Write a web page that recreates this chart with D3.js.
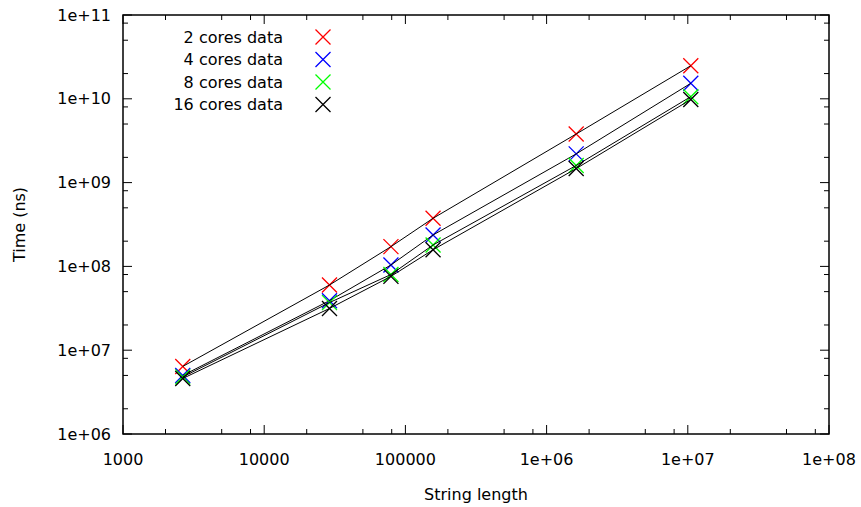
<!DOCTYPE html>
<html><head><meta charset="utf-8">
<script src="https://cdn.jsdelivr.net/npm/d3@7"></script>
<style>body{margin:0;background:#fff}svg{display:block}text{font-family:"DejaVu Sans",sans-serif;font-size:16px;fill:#000}</style>
</head><body><svg id="c" width="861" height="507"></svg>
<script>
const lengths = [2650, 29000, 79000, 157000, 1620000, 10500000];
const seriesNames = ["2 cores data", "4 cores data", "8 cores data", "16 cores data"];
const seriesColors = ["#ff0000", "#0000ff", "#00ff00", "#000000"];
const cores2 = [6.4e6, 6.0e7, 1.72e8, 3.75e8, 3.8e9, 2.48e10];
const cores4 = [5.0e6, 3.9e7, 1.04e8, 2.37e8, 2.2e9, 1.53e10];
const cores8 = [4.8e6, 3.7e7, 8.0e7, 1.8e8, 1.6e9, 1.06e10];
const cores16 = [4.6e6, 3.15e7, 7.6e7, 1.58e8, 1.47e9, 9.8e9];
const seriesValues = [cores2, cores4, cores8, cores16];
const xTickValues = [1e3, 1e4, 1e5, 1e6, 1e7, 1e8];
const xTickLabels = ["1000", "10000", "100000", "1e+06", "1e+07", "1e+08"];
const yTickValues = [1e6, 1e7, 1e8, 1e9, 1e10, 1e11];
const yTickLabels = ["1e+06", "1e+07", "1e+08", "1e+09", "1e+10", "1e+11"];

const L = 123, R = 829, T = 15, B = 434;
const svg = d3.select("#c");
const x = d3.scaleLog().domain([1e3, 1e8]).range([L, R]);
const y = d3.scaleLog().domain([1e6, 1e11]).range([B, T]);

const minorX = [], minorY = [];
for (let d = 3; d < 8; d++) for (const m of [2, 5, 8]) minorX.push(m * Math.pow(10, d));
for (let d = 6; d < 11; d++) for (const m of [2, 5, 8]) minorY.push(m * Math.pow(10, d));

const g = svg.append("g");
function tk(x1, y1, x2, y2) { g.append("line").attr("x1", x1).attr("y1", y1).attr("x2", x2).attr("y2", y2).attr("stroke", "#000").attr("stroke-width", 1); }
xTickValues.forEach(v => { const px = x(v); tk(px, B, px, B - 9); tk(px, T, px, T + 9); });
minorX.forEach(v => { const px = x(v); tk(px, B, px, B - 5); tk(px, T, px, T + 5); });
yTickValues.forEach(v => { const py = y(v); tk(L, py, L + 9, py); tk(R, py, R - 9, py); });
minorY.forEach(v => { const py = y(v); tk(L, py, L + 5, py); tk(R, py, R - 5, py); });

xTickValues.forEach((v, i) => g.append("text").attr("x", x(v)).attr("y", B + 25).attr("text-anchor", "middle").attr("dominant-baseline", "central").text(xTickLabels[i]));
yTickValues.forEach((v, i) => g.append("text").attr("x", L - 12).attr("y", y(v)).attr("text-anchor", "end").attr("dominant-baseline", "central").text(yTickLabels[i]));

svg.append("text").attr("x", (L + R) / 2).attr("y", 494).attr("text-anchor", "middle").attr("dominant-baseline", "central").text("String length");
svg.append("text").attr("transform", `translate(19,${(T + B) / 2}) rotate(-90)`).attr("text-anchor", "middle").attr("dominant-baseline", "central").text("Time (ns)");

function cross(sel, cx, cy, col) {
  const s = 7.5;
  sel.append("path").attr("d", `M${cx - s},${cy - s}L${cx + s},${cy + s}M${cx - s},${cy + s}L${cx + s},${cy - s}`)
    .attr("stroke", col).attr("stroke-width", 1.3).attr("fill", "none");
}
const line = d3.line().x((d, i) => x(lengths[i])).y(d => y(d));
const pg = svg.append("g");
seriesValues.forEach((vals, si) => {
  vals.forEach((v, i) => cross(pg, x(lengths[i]), y(v), seriesColors[si]));
  pg.append("path").attr("d", line(vals)).attr("fill", "none").attr("stroke", "#000").attr("stroke-width", 1);
});

const legY = [37, 59.5, 82, 104.5];
seriesNames.forEach((n, i) => {
  svg.append("text").attr("x", 283).attr("y", legY[i]).attr("text-anchor", "end").attr("dominant-baseline", "central").text(n);
  cross(svg, 323, legY[i], seriesColors[i]);
});

svg.append("rect").attr("x", L).attr("y", T).attr("width", R - L).attr("height", B - T).attr("fill", "none").attr("stroke", "#000").attr("stroke-width", 1.5);
</script></body></html>
